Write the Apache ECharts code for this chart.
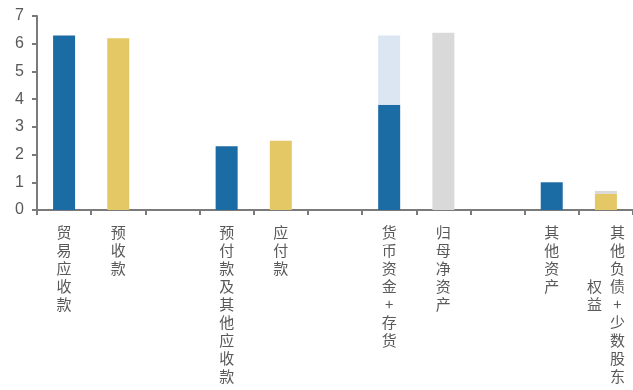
<!DOCTYPE html>
<html>
<head>
<meta charset="utf-8">
<script src="https://cdn.jsdelivr.net/npm/echarts@6/dist/echarts.min.js"></script>
<style>html,body{margin:0;padding:0;background:#fff;}#c{width:633px;height:390px;}</style>
</head>
<body>
<div id="c"></div>
<script>
var categories = ['贸易应收款', '预收款', '', '预付款及其他应收款', '应付款', '', '货币资金+存货', '归母净资产', '', '其他资产', '其他负债+少数股东权益'];
var blueValues = [6.3, '-', '-', 2.3, '-', '-', 3.8, '-', '-', 1.0, '-'];
var yellowValues = ['-', 6.2, '-', '-', 2.5, '-', '-', '-', '-', '-', 0.58];
var lightBlueValues = ['-', '-', '-', '-', '-', '-', 2.5, '-', '-', '-', '-'];
var greyValues = ['-', '-', '-', '-', '-', '-', '-', 6.4, '-', '-', 0.11];
var yTicks = [0, 1, 2, 3, 4, 5, 6, 7];

var COL = 9;
function verticalLabel(name) {
  var chars = Array.from(name);
  if (!chars.length) return '';
  var right = chars.slice(0, COL);
  var left = chars.slice(COL);
  if (!left.length) {
    return right.map(function (c) { return '{r|' + c + '}'; }).join('\n');
  }
  var start = Math.floor((right.length - left.length) / 2);
  return right.map(function (c, i) {
    var l = left[i - start];
    return '{l|' + (l ? l : ' ') + '}{r|' + c + '}';
  }).join('\n');
}

var chart = echarts.init(document.getElementById('c'));
var labelFont = 'Noto Sans CJK SC';
chart.setOption({
  animation: false,
  grid: { left: 37, right: 0, top: 16, bottom: 180, containLabel: false },
  xAxis: {
    type: 'category',
    data: categories,
    axisLine: { lineStyle: { color: '#7a7a7a', width: 2 } },
    axisTick: { show: true, length: 5, lineStyle: { color: '#7a7a7a', width: 2 } },
    axisLabel: {
      interval: 0,
      margin: 13,
      formatter: verticalLabel,
      color: '#595959',
      fontFamily: labelFont,
      fontSize: 15,
      lineHeight: 18,
      rich: {
        l: { width: 23, align: 'center', color: '#595959', fontFamily: labelFont, fontSize: 15, lineHeight: 18 },
        r: { width: 23, align: 'center', color: '#595959', fontFamily: labelFont, fontSize: 15, lineHeight: 18 }
      }
    }
  },
  yAxis: {
    type: 'value',
    min: yTicks[0],
    max: yTicks[yTicks.length - 1],
    interval: 1,
    splitLine: { show: false },
    axisLine: { show: true, lineStyle: { color: '#7a7a7a', width: 2 } },
    axisTick: { show: true, length: 5, lineStyle: { color: '#7a7a7a', width: 2 } },
    axisLabel: { color: '#595959', fontFamily: 'Liberation Sans', fontSize: 16, margin: 13 }
  },
  series: [
    { name: 'blue', type: 'bar', stack: 's', barWidth: 22, data: blueValues, itemStyle: { color: '#1B6BA5' } },
    { name: 'yellow', type: 'bar', stack: 's', barWidth: 22, data: yellowValues, itemStyle: { color: '#E4C865' } },
    { name: 'lightblue', type: 'bar', stack: 's', barWidth: 22, data: lightBlueValues, itemStyle: { color: '#DCE6F2' } },
    { name: 'grey', type: 'bar', stack: 's', barWidth: 22, data: greyValues, itemStyle: { color: '#D9D9D9' } }
  ]
});
</script>
</body>
</html>
